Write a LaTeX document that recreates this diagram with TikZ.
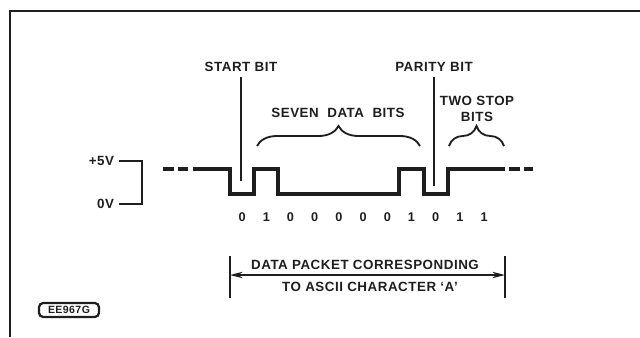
\documentclass[tikz,border=0pt]{standalone}
\usepackage{fontspec}
\setmainfont{Liberation Sans}[LetterSpace=4]
\usetikzlibrary{arrows.meta, positioning, calc, decorations.pathreplacing}
\definecolor{ink}{HTML}{1E1E1E}

\begin{document}
\begin{tikzpicture}[x=0.025cm, y=-0.025cm,
  every node/.style={text=ink, font=\fontsize{9.5}{11}\selectfont\bfseries},
  signal/.style={draw=ink, line width=2.4pt},
  markline/.style={draw=ink, line width=1.3pt},
  bitlbl/.style={font=\fontsize{9}{10}\selectfont\bfseries, inner sep=0pt},
  curly/.style={draw=ink, line width=1.3pt, decorate,
    decoration={brace, amplitude=0.5cm}},
  dimarrow/.style={draw=ink, line width=1.2pt,
    {Stealth[length=9pt, width=4.5pt]}-{Stealth[length=9pt, width=4.5pt]}},
  tagbox/.style={draw=ink, line width=1.6pt, rounded corners=3pt,
    minimum width=1.5cm, minimum height=0.35cm, inner sep=1pt,
    font=\fontsize{7.5}{8}\selectfont\bfseries},
]
\useasboundingbox (0,0) rectangle (640,337);

% Frame
\draw[ink, line width=1.3pt] (10,337) -- (10,11) -- (640,11);

% Voltage levels
\node[anchor=east] (fivev) at (119,161) {+5V};
\node[anchor=east] (zerov) at (119,204) {0V};
\coordinate (scaletop) at (142,161);
\draw[markline] (fivev.east) -- (scaletop) |- (zerov.east);

% Waveform
\draw[signal, dash pattern=on 7.5pt off 3pt] (163,169) -- (190,169);
\draw[signal] (193,169) -- (230,169) -- (230,194) -- (254,194) -- (254,169)
  -- (278,169) -- (278,194) -- (399,194) -- (399,169) -- (424,169)
  -- (424,194) -- (448,194) -- (448,169) -- (505,169);
\draw[signal, dash pattern=on 7.5pt off 3pt] (509,169) -- (533,169);

% Bit values
\foreach \b [count=\i] in {0,1,0,0,0,0,0,1,0,1,1}
  \node[bitlbl] (bit\i) at ({230+(\i-0.5)*24.2},217) {\b};

% Start and parity markers
\node (startlbl) at (241,67) {START BIT};
\coordinate (starttip) at (241,181);
\draw[markline] (startlbl.south) -- (starttip);

\node (paritylbl) at (434,67) {PARITY BIT};
\coordinate (paritytip) at (434,186);
\draw[markline] (paritylbl.south) -- (paritytip);

% Data bits
\node (datalbl) at (338,113) {SEVEN\ \ DATA\ \ BITS};
\coordinate (dataL) at (257,146);
\coordinate (dataR) at (420,146);
\draw[curly] (dataL) -- (dataR);

% Stop bits
\node[align=center] (stoplbl) at (477,109) {TWO STOP\\BITS};
\coordinate (stopL) at (449,146);
\coordinate (stopR) at (504,146);
\draw[curly] (stopL) -- (stopR);

% Data packet
\coordinate (pktL) at (230,275);
\coordinate (pktR) at (505,275);
\draw[markline] ($(pktL)+(0,-19)$) -- ($(pktL)+(0,23)$);
\draw[markline] ($(pktR)+(0,-19)$) -- ($(pktR)+(0,23)$);
\draw[dimarrow] (pktL) -- (pktR);
\node (pkttop) at (365,265) {DATA PACKET CORRESPONDING};
\node (pktbot) at (370,287) {TO ASCII CHARACTER `A'};

% Figure tag
\node[tagbox] (tag) at (69,310) {EE967G};

\end{tikzpicture}
\end{document}
